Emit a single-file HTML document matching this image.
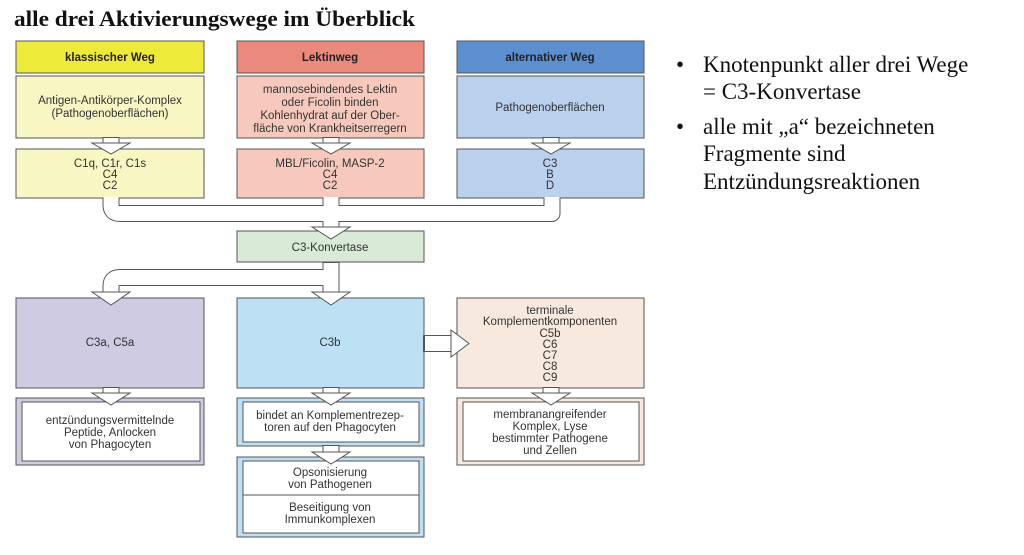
<!DOCTYPE html>
<html><head><meta charset="utf-8"><style>
body{margin:0;background:#fff;width:1024px;height:555px;overflow:hidden;}
svg{display:block}
.t{font-family:"Liberation Sans",sans-serif;font-size:11.5px;fill:#333;text-anchor:middle}
.b{font-weight:bold;fill:#222}
.bx{stroke:#555;stroke-width:1}
.r{font-family:"Liberation Serif",serif;font-size:23px;fill:#111}
</style></head><body>
<svg width="1024" height="555" xmlns="http://www.w3.org/2000/svg">
<text x="14" y="26" font-family="Liberation Serif,serif" font-weight="bold" font-size="22" fill="#111" textLength="401" lengthAdjust="spacingAndGlyphs">alle drei Aktivierungswege im Überblick</text>

<rect class="bx" x="16" y="41" width="188" height="32" fill="#eeea3a"/>
<rect class="bx" x="237" y="41" width="187" height="32" fill="#ea8a7c"/>
<rect class="bx" x="457" y="41" width="187" height="32" fill="#5c8fd0"/>
<text class="t b" x="110" y="61">klassischer Weg</text>
<text class="t b" x="330" y="61">Lektinweg</text>
<text class="t b" x="550" y="61">alternativer Weg</text>

<rect class="bx" x="16" y="76" width="188" height="62" fill="#f8f6c2"/>
<rect class="bx" x="237" y="76" width="187" height="62" fill="#f7c9bd"/>
<rect class="bx" x="457" y="76" width="187" height="62" fill="#b9d1ed"/>
<text class="t" x="110" y="104">Antigen-Antikörper-Komplex</text>
<text class="t" x="110" y="117">(Pathogenoberflächen)</text>
<text class="t" x="330" y="93">mannosebindendes Lektin</text>
<text class="t" x="330" y="106">oder Ficolin binden</text>
<text class="t" x="330" y="119">Kohlenhydrat auf der Ober-</text>
<text class="t" x="330" y="132">fläche von Krankheitserregern</text>
<text class="t" x="550" y="111">Pathogenoberflächen</text>

<rect class="bx" x="16" y="149" width="188" height="49" fill="#f8f6c2"/>
<rect class="bx" x="237" y="149" width="187" height="49" fill="#f7c9bd"/>
<rect class="bx" x="457" y="149" width="187" height="49" fill="#b9d1ed"/>
<text class="t" x="110" y="167">C1q, C1r, C1s</text><text class="t" x="110" y="178">C4</text><text class="t" x="110" y="189">C2</text>
<text class="t" x="330" y="167">MBL/Ficolin, MASP-2</text><text class="t" x="330" y="178">C4</text><text class="t" x="330" y="189">C2</text>
<text class="t" x="550" y="167">C3</text><text class="t" x="550" y="178">B</text><text class="t" x="550" y="189">D</text>

<rect class="bx" x="237" y="231" width="187" height="31" fill="#d7ebd6"/>
<text class="t" x="330" y="251">C3-Konvertase</text>

<rect class="bx" x="16" y="298" width="188" height="90" fill="#cfcbe3"/>
<rect class="bx" x="237" y="298" width="187" height="90" fill="#bee0f5"/>
<rect class="bx" x="457" y="298" width="187" height="90" fill="#f8e9de"/>
<text class="t" x="110" y="346">C3a, C5a</text>
<text class="t" x="330" y="346">C3b</text>
<text class="t" x="550" y="314">terminale</text>
<text class="t" x="550" y="325">Komplementkomponenten</text>
<text class="t" x="550" y="337">C5b</text><text class="t" x="550" y="348">C6</text><text class="t" x="550" y="359">C7</text><text class="t" x="550" y="370">C8</text><text class="t" x="550" y="381">C9</text>

<rect class="bx" x="16" y="398" width="188" height="67" fill="#cfcbe3"/>
<rect class="bx" x="22" y="402" width="178" height="59" fill="#fff"/>
<text class="t" x="110" y="424">entzündungsvermittelnde</text><text class="t" x="110" y="436">Peptide, Anlocken</text><text class="t" x="110" y="448">von Phagocyten</text>

<rect class="bx" x="237" y="398" width="187" height="48" fill="#bee0f5"/>
<rect class="bx" x="243" y="402" width="176" height="40" fill="#fff"/>
<text class="t" x="330" y="419">bindet an Komplementrezep-</text><text class="t" x="330" y="431">toren auf den Phagocyten</text>

<rect class="bx" x="237" y="457" width="187" height="80" fill="#bee0f5"/>
<rect class="bx" x="243" y="461" width="176" height="72" fill="#fff"/>
<line x1="243" y1="495" x2="419" y2="495" stroke="#555"/>
<text class="t" x="330" y="476">Opsonisierung</text><text class="t" x="330" y="488">von Pathogenen</text>
<text class="t" x="330" y="511">Beseitigung von</text><text class="t" x="330" y="523">Immunkomplexen</text>

<rect class="bx" x="457" y="398" width="187" height="67" fill="#f8e9de"/>
<rect class="bx" x="463" y="402" width="176" height="59" fill="#fff"/>
<text class="t" x="550" y="418">membranangreifender</text><text class="t" x="550" y="430">Komplex, Lyse</text><text class="t" x="550" y="442">bestimmter Pathogene</text><text class="t" x="550" y="454">und Zellen</text>

<g fill="none" stroke-linejoin="round">
<path d="M111 198 V205 Q111 213.5 120 213.5 H552 Q552 213.5 552 205 V198 M331 198 V228 M331 262 V277.5 H120 Q111 277.5 111 286 V292 M331 277.5 V292" stroke="#555" stroke-width="17"/>
<path d="M111 197 V205 Q111 213.5 120 213.5 H552 Q552 213.5 552 205 V197 M331 197 V228 M331 263 V277.5 H120 Q111 277.5 111 286 V293 M331 277.5 V293" stroke="#fff" stroke-width="15"/>
<path d="M111 137 V143 M331 137 V143 M551 137 V143 M111 387 V393 M331 387 V393 M551 387 V393 M331 445 V452" stroke="#555" stroke-width="17"/>
<path d="M111 138 V144 M331 138 V144 M551 138 V144 M111 388 V394 M331 388 V394 M551 388 V394 M331 446 V453" stroke="#fff" stroke-width="15"/>
<path d="M423 343.5 H452" stroke="#555" stroke-width="17"/>
<path d="M425 343.5 H453" stroke="#fff" stroke-width="15"/>
</g>
<g fill="#fff" stroke="#555" stroke-width="1">
<polygon points="92,143 130,143 111,154"/>
<polygon points="312,143 350,143 331,154"/>
<polygon points="532,143 570,143 551,154"/>
<polygon points="312,227 350,227 331,239"/>
<polygon points="92,292 130,292 111,305"/>
<polygon points="312,292 350,292 331,305"/>
<polygon points="92,393 130,393 111,405"/>
<polygon points="312,393 350,393 331,405"/>
<polygon points="532,393 570,393 551,405"/>
<polygon points="312,452 350,452 331,464"/>
<polygon points="451,330 451,357 469,343.5"/>
</g>

<text class="r" x="676" y="72" font-size="22">•</text>
<text class="r" x="703" y="72">Knotenpunkt aller drei Wege</text>
<text class="r" x="703" y="99">= C3-Konvertase</text>
<text class="r" x="676" y="134" font-size="22">•</text>
<text class="r" x="703" y="134">alle mit „a“ bezeichneten</text>
<text class="r" x="703" y="161">Fragmente sind</text>
<text class="r" x="703" y="189">Entzündungsreaktionen</text>
</svg>
</body></html>
